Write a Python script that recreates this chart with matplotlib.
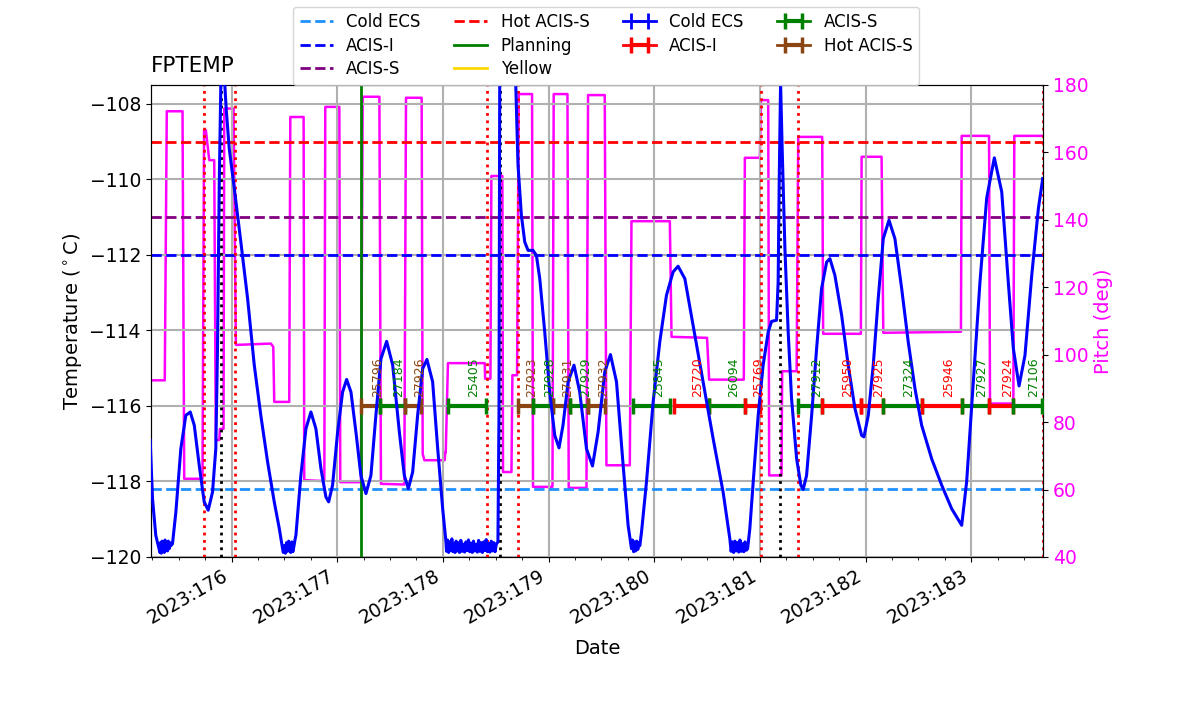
import numpy as np
import matplotlib.pyplot as plt
from matplotlib.ticker import FuncFormatter, MultipleLocator

# Limit lines (degC)
lim_cold_ecs = -118.2
lim_acis_i = -112.0
lim_acis_s = -111.0
lim_hot_acis_s = -109.0
lim_planning = -84.0   # fuera del rango visible
lim_yellow = -79.0

# Tiempos en dia del año 2023
load_start = 177.222
rad_zone_edges = [175.735, 176.028, 178.414, 178.708, 181.009, 181.360, 183.680]
perigees = [175.896, 178.538, 181.189]

# FPTEMP modelado
temp_time = [
    175.230, 175.252, 175.283, 175.315,
    175.322, 175.328, 175.335, 175.342, 175.349, 175.356, 175.363, 175.370,
    175.378, 175.386, 175.394, 175.402, 175.410, 175.418, 175.425,
    175.441, 175.473, 175.520, 175.567, 175.609, 175.647, 175.694, 175.741,
    175.779, 175.820, 175.851, 175.867, 175.884, 175.899, 175.915, 175.934,
    175.950, 175.978, 176.026, 176.088, 176.152, 176.215, 176.277, 176.341,
    176.404, 176.452, 176.483,
    176.490, 176.500, 176.510, 176.520, 176.530, 176.540, 176.550, 176.560,
    176.570, 176.580, 176.590, 176.600,
    176.609, 176.656, 176.704, 176.751, 176.798, 176.846, 176.893, 176.919,
    176.956, 177.004, 177.051, 177.089, 177.130, 177.177, 177.224, 177.272,
    177.319, 177.366, 177.414, 177.468, 177.525, 177.588, 177.635, 177.673,
    177.714, 177.761, 177.809, 177.849, 177.903, 177.951, 177.998, 178.029,
    178.035, 178.045, 178.055, 178.065, 178.075, 178.085, 178.095, 178.105,
    178.115, 178.125, 178.135, 178.145, 178.158, 178.170, 178.182, 178.194,
    178.206, 178.218, 178.230, 178.242, 178.254, 178.266, 178.278, 178.290,
    178.302, 178.314, 178.326, 178.338, 178.350, 178.362, 178.374, 178.386,
    178.398, 178.410, 178.422, 178.434, 178.446, 178.458, 178.470, 178.482,
    178.494, 178.506, 178.521,
    178.531, 178.538, 178.610, 178.689, 178.711, 178.743, 178.775, 178.806,
    178.853, 178.885, 178.917, 178.964, 179.011, 179.059, 179.099, 179.137,
    179.185, 179.241, 179.295, 179.359, 179.416, 179.469, 179.532, 179.586,
    179.643, 179.706, 179.753, 179.785,
    179.795, 179.805, 179.815, 179.825, 179.835, 179.845, 179.855, 179.864,
    179.880, 179.927, 179.990, 180.053, 180.116, 180.179, 180.226, 180.290,
    180.368, 180.463, 180.558, 180.652, 180.716,
    180.728, 180.740, 180.752, 180.764, 180.776, 180.788, 180.800, 180.812,
    180.824, 180.836, 180.848, 180.860, 180.872, 180.884,
    180.905, 180.937, 180.984, 181.031, 181.079, 181.111, 181.158, 181.173,
    181.183, 181.196, 181.211, 181.237, 181.268, 181.300, 181.348, 181.388,
    181.410, 181.442, 181.490, 181.537, 181.584, 181.632, 181.663, 181.710,
    181.774, 181.836, 181.900, 181.963, 181.985, 182.026, 182.073, 182.120,
    182.168, 182.222, 182.278, 182.342, 182.404, 182.468, 182.531, 182.626,
    182.721, 182.815, 182.910, 182.957, 183.020, 183.083, 183.147, 183.219,
    183.289, 183.351, 183.399, 183.453, 183.509, 183.573, 183.636, 183.677,
]
temp_vals = [
    -116.91, -118.46, -119.43, -119.80,
    -119.88, -119.62, -119.90, -119.58, -119.85, -119.65, -119.88, -119.55,
    -119.82, -119.60, -119.84, -119.58, -119.78, -119.62, -119.70,
    -119.65, -118.81, -117.13, -116.25, -116.16, -116.51, -117.57, -118.54,
    -118.76, -118.28, -117.13, -114.48, -110.07, -107.40, -105.00, -107.40,
    -108.16, -109.18, -110.24, -111.66, -113.16, -114.92, -116.25, -117.48,
    -118.54, -119.25, -119.78,
    -119.88, -119.70, -119.90, -119.62, -119.85, -119.58, -119.80, -119.88,
    -119.60, -119.86, -119.72, -119.55,
    -119.43, -117.84, -116.60, -116.16, -116.60, -117.66, -118.41, -118.54,
    -118.10, -116.69, -115.63, -115.30, -115.63, -116.69, -117.84, -118.32,
    -117.84, -116.25, -114.75, -114.29, -114.92, -116.69, -117.84, -118.19,
    -117.75, -116.25, -115.01, -114.77, -115.36, -117.13, -118.72, -119.60,
    -119.85, -119.55, -119.88, -119.60, -119.82, -119.52, -119.86, -119.65,
    -119.88, -119.58, -119.84, -119.62, -119.88, -119.56, -119.85, -119.66,
    -119.87, -119.60, -119.83, -119.55, -119.86, -119.63, -119.88, -119.58,
    -119.84, -119.66, -119.87, -119.56, -119.85, -119.62, -119.88, -119.60,
    -119.83, -119.54, -119.86, -119.64, -119.87, -119.58, -119.84, -119.62,
    -119.86, -119.66, -119.60,
    -116.25, -107.40, -101.00, -107.42, -109.62, -110.95, -111.66, -111.88,
    -111.88, -112.01, -112.63, -114.04, -115.63, -116.78, -117.11, -116.51,
    -115.36, -114.92, -115.63, -117.13, -117.59, -116.69, -115.10, -114.64,
    -115.36, -117.57, -119.16, -119.78,
    -119.55, -119.86, -119.60, -119.84, -119.58, -119.80, -119.62, -119.70,
    -119.34, -118.01, -115.89, -114.30, -113.07, -112.45, -112.30, -112.63,
    -113.86, -115.36, -116.87, -118.28, -119.52,
    -119.85, -119.60, -119.88, -119.58, -119.84, -119.62, -119.87, -119.55,
    -119.85, -119.65, -119.86, -119.60, -119.82, -119.78,
    -119.25, -118.01, -116.25, -114.92, -114.04, -113.76, -113.73, -112.72,
    -110.07, -107.45, -109.18, -111.83, -114.04, -115.81, -117.40, -118.10,
    -118.21, -117.84, -116.25, -114.48, -112.89, -112.19, -112.10, -112.54,
    -113.60, -114.92, -116.07, -116.78, -116.82, -116.25, -114.92, -113.16,
    -111.57, -111.08, -111.57, -112.89, -114.30, -115.54, -116.51, -117.40,
    -118.10, -118.72, -119.16, -118.01, -115.36, -112.72, -110.49, -109.43,
    -110.33, -112.72, -114.48, -115.47, -114.66, -112.54, -110.77, -109.98,
]

# Pitch (deg)
pitch_time = [
    175.230, 175.368, 175.387, 175.536, 175.552, 175.725, 175.740, 175.757,
    175.789, 175.836, 175.851, 175.884, 175.890, 175.924, 175.931, 176.019,
    176.041, 176.372, 176.395, 176.404, 176.546, 176.556, 176.682, 176.688,
    176.878, 176.887, 177.020, 177.029, 177.224, 177.241, 177.399, 177.414,
    177.635, 177.651, 177.799, 177.809, 177.825, 178.017, 178.022, 178.027,
    178.048, 178.396, 178.400, 178.450, 178.459, 178.563, 178.569, 178.649,
    178.658, 178.702, 178.718, 178.844, 178.853, 179.037, 179.049, 179.179,
    179.191, 179.359, 179.374, 179.532, 179.548, 179.769, 179.785, 180.148,
    180.164, 180.500, 180.520, 180.848, 180.858, 181.000, 181.009, 181.079,
    181.088, 181.205, 181.211, 181.348, 181.363, 181.590, 181.599, 181.956,
    181.963, 182.152, 182.168, 182.903, 182.910, 183.169, 183.178, 183.399,
    183.408, 183.680,
]
pitch_vals = [
    92.4, 92.4, 172.2, 172.2, 63.2, 63.2, 166.6, 166.6,
    157.7, 157.7, 74.7, 74.7, 78.0, 78.0, 173.0, 173.0,
    102.9, 103.3, 102.3, 86.0, 86.0, 170.5, 170.5, 62.8,
    62.5, 173.5, 173.5, 62.2, 62.2, 176.5, 176.5, 61.7,
    61.5, 176.2, 176.2, 70.6, 68.7, 68.7, 71.0, 71.0,
    97.5, 97.5, 92.9, 92.9, 153.0, 153.0, 65.2, 65.2,
    93.9, 93.9, 177.3, 177.3, 60.8, 60.8, 177.3, 177.3,
    60.5, 60.5, 177.0, 177.0, 67.2, 67.2, 139.6, 139.6,
    105.3, 105.0, 92.6, 92.6, 158.4, 158.4, 175.5, 175.5,
    64.2, 64.2, 95.1, 95.1, 164.6, 164.6, 106.2, 106.2,
    158.7, 158.7, 106.5, 106.8, 164.9, 164.9, 85.5, 85.5,
    164.9, 164.9,
]

# Observaciones
obsids = ['25796', '27184', '27926', '25405', '27923', '27928', '27931',
          '27929', '27932', '25845', '25720', '26094', '25769', '27912',
          '25950', '27925', '27324', '25946', '27927', '27924', '27106']
obs_start = [177.228, 177.408, 177.638, 178.048, 178.711, 178.853, 179.043,
             179.201, 179.374, 179.800, 180.188, 180.520, 180.858, 181.363,
             181.584, 181.956, 182.162, 182.537, 182.910, 183.171, 183.399]
obs_stop = [177.408, 177.638, 177.796, 178.412, 178.853, 179.043, 179.201,
            179.374, 179.539, 180.154, 180.520, 180.858, 181.000, 181.584,
            181.956, 182.162, 182.537, 182.910, 183.171, 183.399, 183.668]
obs_mode = ['Hot ACIS-S', 'ACIS-S', 'Hot ACIS-S', 'ACIS-S', 'Hot ACIS-S',
            'ACIS-S', 'Hot ACIS-S', 'ACIS-S', 'Hot ACIS-S', 'ACIS-S', 'ACIS-I',
            'ACIS-S', 'ACIS-I', 'ACIS-S', 'ACIS-I', 'ACIS-I', 'ACIS-S',
            'ACIS-I', 'ACIS-S', 'ACIS-I', 'ACIS-S']
obs_level = -116.0

colores_modo = {'Cold ECS': 'blue', 'ACIS-I': 'red', 'ACIS-S': 'green',
                'Hot ACIS-S': 'saddlebrown'}

fig = plt.figure(figsize=(12, 7.14), dpi=100)
fig.subplots_adjust(left=0.1256, right=0.8692, bottom=0.2199, top=0.881)
ax = fig.add_subplot(111)
ax2 = ax.twinx()
ax.set_zorder(ax2.get_zorder() + 1)
ax.patch.set_visible(False)

ax2.plot(pitch_time, pitch_vals, color='magenta', lw=1.8)
ax2.set_ylim(40, 180)
ax2.set_ylabel('Pitch (deg)', color='magenta', fontsize=14)
ax2.tick_params(axis='y', labelcolor='magenta', labelsize=13.5)

ax.plot(temp_time, temp_vals, color='blue', lw=2.2, zorder=5)

handles = []
for val, col, ls, lab in [(lim_cold_ecs, 'dodgerblue', '--', 'Cold ECS'),
                          (lim_acis_i, 'blue', '--', 'ACIS-I'),
                          (lim_acis_s, 'purple', '--', 'ACIS-S'),
                          (lim_hot_acis_s, 'red', '--', 'Hot ACIS-S'),
                          (lim_planning, 'green', '-', 'Planning'),
                          (lim_yellow, 'gold', '-', 'Yellow')]:
    handles.append(ax.axhline(val, color=col, ls=ls, lw=2, label=lab))

ax.axvline(load_start, color='green', lw=2)
for t in rad_zone_edges:
    ax.axvline(t, color='red', ls=':', lw=2)
for t in perigees:
    ax.axvline(t, color='black', ls=':', lw=2)

# Barras de observaciones
eb_handles = {}
eb_handles['Cold ECS'] = ax.errorbar([np.nan], [np.nan], xerr=[np.nan],
                                     color='blue', lw=2, capsize=5.5, capthick=2)
for oid, t0, t1, modo in zip(obsids, obs_start, obs_stop, obs_mode):
    c = colores_modo[modo]
    centro = 0.5 * (t0 + t1)
    eb = ax.errorbar([centro], [obs_level], xerr=[0.5 * (t1 - t0)], color=c,
                     lw=2, elinewidth=3, capsize=5.5, capthick=2.5, zorder=4)
    eb_handles.setdefault(modo, eb)
    ax.text(centro, obs_level + 0.25, oid, color=c, rotation=90,
            ha='left', va='bottom', fontsize=9, zorder=6)

for modo in ['Cold ECS', 'ACIS-I', 'ACIS-S', 'Hot ACIS-S']:
    handles.append(eb_handles[modo])
labels = ['Cold ECS', 'ACIS-I', 'ACIS-S', 'Hot ACIS-S', 'Planning', 'Yellow',
          'Cold ECS', 'ACIS-I', 'ACIS-S', 'Hot ACIS-S']

ax.set_xlim(175.235, 183.68)
ax.set_ylim(-120, -107.5)
ax.xaxis.set_major_locator(MultipleLocator(1))
ax.xaxis.set_minor_locator(MultipleLocator(0.25))
ax.xaxis.set_major_formatter(FuncFormatter(lambda x, p: '2023:%03d' % round(x)))
ax.grid(True, color='#b0b0b0', lw=1.5)
ax.tick_params(labelsize=13.5)
plt.setp(ax.get_xticklabels(), rotation=30, ha='right')
ax.set_xlabel('Date', fontsize=14, labelpad=8)
ax.set_ylabel('Temperature ($^\\circ$C)', fontsize=14)
ax.set_title('FPTEMP', loc='left', fontsize=15.5, pad=9)

ax.legend(handles, labels, ncol=4, loc='upper center', fontsize=12,
          labelspacing=0.32, borderaxespad=0.1,
          bbox_to_anchor=(0.505, 0.993), bbox_transform=fig.transFigure)

fig.savefig('out.png', dpi=100)
